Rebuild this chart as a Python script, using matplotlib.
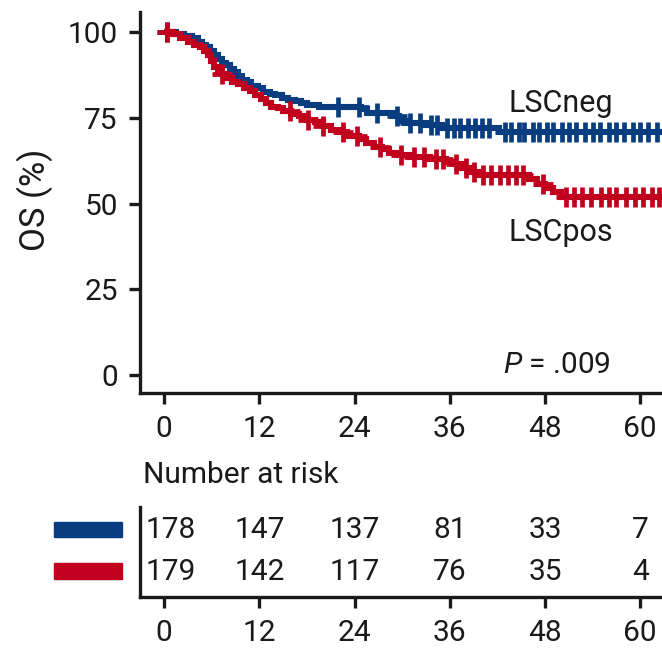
import matplotlib
matplotlib.use('Agg')
import matplotlib.pyplot as plt
import numpy as np
from matplotlib.patches import Rectangle

plt.rcParams['font.family'] = ['Roboto', 'DejaVu Sans']
plt.rcParams['mathtext.fontset'] = 'custom'
plt.rcParams['mathtext.it'] = 'Roboto:italic'
plt.rcParams['mathtext.rm'] = 'Roboto'

BLUE = '#0a3d80'
RED = '#c0001c'
INK = '#1a1a1a'

# Kaplan-Meier steps (months, % surviving after the drop)
neg_t = [0, 1.5, 2.5, 3.5, 4.3, 4.8, 5.3, 5.8, 6.3, 6.8, 7.3, 7.8, 8.3, 8.8, 9.3,
         9.8, 10.4, 11.0, 11.8, 12.5, 13.3, 14.0, 14.8, 15.6, 16.5, 17.3, 18.0,
         19.5, 24.8, 25.6, 28.8, 29.6, 30.5, 33.0, 35.0, 42.2]
neg_s = [100, 99.4, 98.9, 98.3, 97.2, 96.1, 95.5, 94.4, 93.3, 92.1, 91.0, 90.4,
         89.3, 88.2, 87.1, 86.0, 85.4, 84.3, 83.7, 82.6, 82.0, 81.5, 80.9, 80.3,
         79.8, 79.2, 78.6, 78.1, 77.5, 76.4, 75.6, 74.0, 73.5, 72.8, 72.0, 70.8]
neg_cens = [0.4, 21.9, 24.6, 26.8, 29.3, 31.0, 32.3, 33.6, 34.4, 35.6, 36.5, 37.3,
            38.3, 39.2, 40.1, 41.0, 42.9, 43.7, 44.7, 45.4, 46.5, 47.2, 48.3, 49.0,
            50.1, 51.0, 51.9, 53.1, 54.0, 54.9, 56.1, 57.0, 58.0, 59.1, 60.0, 61.0, 62.1]

pos_t = [0, 1.0, 2.0, 3.0, 3.8, 4.5, 5.0, 5.5, 5.9, 6.3, 6.8, 7.3, 7.8, 8.5, 9.3,
         10.0, 10.8, 11.5, 12.2, 12.8, 13.5, 14.3, 15.0, 16.0, 17.0, 18.0, 19.0,
         20.0, 21.0, 22.0, 23.0, 24.5, 25.5, 26.5, 27.5, 28.3, 29.3, 31.0, 33.5,
         35.5, 36.5, 37.5, 38.5, 39.5, 46.0, 47.0, 48.0, 49.0, 50.0]
pos_s = [100, 99.4, 98.3, 97.2, 96.1, 95.5, 94.4, 93.3, 91.6, 89.9, 88.8, 87.7,
         86.6, 85.5, 84.9, 83.8, 82.7, 81.6, 80.4, 79.3, 78.2, 77.7, 77.1, 76.0,
         75.4, 74.3, 73.7, 72.6, 71.5, 70.9, 69.8, 68.7, 67.6, 66.5, 65.9, 64.8,
         64.2, 63.6, 62.9, 62.2, 61.4, 60.3, 59.2, 58.3, 57.1, 55.8, 54.6, 53.3, 52.0]
pos_cens = [0.3, 7.3, 15.8, 18.1, 20.0, 22.5, 24.3, 27.2, 29.8, 31.5, 32.8, 34.2,
            35.2, 36.8, 38.0, 39.0, 40.2, 41.2, 42.3, 43.4, 44.3, 45.2, 47.8, 50.6,
            51.6, 52.7, 53.8, 55.0, 56.1, 57.0, 58.2, 59.3, 60.4, 61.5, 62.4]

x_ticks = [0, 12, 24, 36, 48, 60]
y_ticks = [0, 25, 50, 75, 100]
risk_neg = [178, 147, 137, 81, 33, 7]
risk_pos = [179, 142, 117, 76, 35, 4]

FS = 21.5
W, H = 662, 648
fig = plt.figure(figsize=(W / 100, H / 100), dpi=100)

ax = fig.add_axes([140 / W, (H - 392.7) / H, 1 - 140 / W, (392.7 - 11.7) / H])
XLIM = (-3.05, 62.75)


def draw_curve(t, s, cens, color):
    tt = list(t) + [XLIM[1] + 1]
    ss = list(s) + [s[-1]]
    ax.step(tt, ss, where='post', color=color, lw=4.4, solid_joinstyle='miter',
            solid_capstyle='butt', zorder=3)
    idx = np.searchsorted(t, cens, side='right') - 1
    ax.plot(cens, np.array(s)[idx], ls='none', marker='+', ms=14, mew=3.4,
            color=color, zorder=3)


draw_curve(neg_t, neg_s, neg_cens, BLUE)
draw_curve(pos_t, pos_s, pos_cens, RED)

ax.set_xlim(*XLIM)
ax.set_ylim(-5.1, 105.9)
ax.set_xticks(x_ticks)
ax.set_yticks(y_ticks)
for a in ['top', 'right']:
    ax.spines[a].set_visible(False)
for a in ['left', 'bottom']:
    ax.spines[a].set_linewidth(2.4)
    ax.spines[a].set_color(INK)
ax.tick_params(axis='both', width=2.4, length=8, color=INK, labelsize=FS,
               labelcolor=INK)
ax.tick_params(axis='x', pad=8)
ax.tick_params(axis='y', pad=8)

ax.text(43.4, 79.3, 'LSCneg', fontsize=22, color=INK, ha='left', va='center')
ax.text(43.4, 41.7, 'LSCpos', fontsize=22, color=INK, ha='left', va='center')
ax.text(42.7, 3.0, '$P$ = .009', fontsize=FS, color=INK, ha='left', va='center')

fig.text(35 / W, 1 - 200 / H, 'OS (%)', rotation=90, fontsize=25, color=INK,
         ha='center', va='center')
fig.text(143 / W, 1 - 475 / H, 'Number at risk', fontsize=FS, color=INK,
         ha='left', va='center')

# number at risk table
tb = fig.add_axes([140 / W, (H - 597) / H, 1 - 140 / W, 90 / H])
tb.set_xlim(*XLIM)
tb.set_ylim(0, 1)
tb.set_xticks(x_ticks)
tb.set_yticks([])
for a in ['top', 'right']:
    tb.spines[a].set_visible(False)
for a in ['left', 'bottom']:
    tb.spines[a].set_linewidth(2.4)
    tb.spines[a].set_color(INK)
tb.tick_params(axis='x', width=2.4, length=8, color=INK, labelsize=FS,
               labelcolor=INK, pad=8)

for row, yy in [(risk_neg, 0.745), (risk_pos, 0.28)]:
    for i, (xt, n) in enumerate(zip(x_ticks, row)):
        if i == 0:
            tb.text(xt - 2.3, yy, str(n), fontsize=FS, color=INK, ha='left', va='center')
        else:
            tb.text(xt, yy, str(n), fontsize=FS, color=INK, ha='center', va='center')

fig.patches.append(Rectangle((54 / W, 1 - 537 / H), 68 / W, 15 / H,
                             transform=fig.transFigure, color=BLUE))
fig.patches.append(Rectangle((54 / W, 1 - 579 / H), 68 / W, 16 / H,
                             transform=fig.transFigure, color=RED))

fig.savefig('out.png', dpi=100)
